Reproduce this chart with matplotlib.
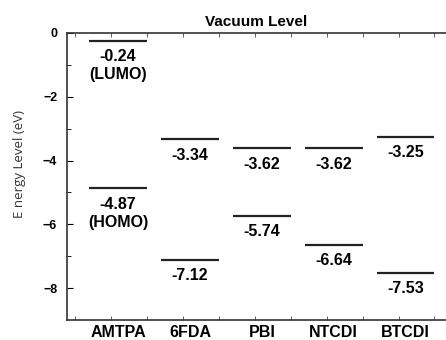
import matplotlib
matplotlib.use("Agg")
import matplotlib.pyplot as plt
import numpy as np

materials = ["AMTPA", "6FDA", "PBI", "NTCDI", "BTCDI"]
lumo = [-0.24, -3.34, -3.62, -3.62, -3.25]
homo = [-4.87, -7.12, -5.74, -6.64, -7.53]

plt.rcParams["font.family"] = ["Liberation Sans", "DejaVu Sans"]

fig = plt.figure(figsize=(4.46, 3.40), dpi=100)
ax = fig.add_axes([0.150, 0.059, 0.850, 0.844])

xs = np.arange(1, len(materials) + 1)
half = 0.4
for i, x in enumerate(xs):
    for val, tag in ((lumo[i], "(LUMO)"), (homo[i], "(HOMO)")):
        ax.plot([x - half, x + half], [val, val], color="#222222", lw=1.6,
                solid_capstyle="butt")
        txt = "%.2f" % val
        if i == 0:
            txt += "\n" + tag
        ax.annotate(txt, (x, val), xytext=(0, -6), textcoords="offset points",
                    ha="center", va="top", fontsize=11.5, fontweight="bold",
                    linespacing=1.25)

ax.set_xlim(0.29, 5.56)
ax.set_ylim(-9, 0)

ax.set_xticks(xs)
ax.set_xticklabels(materials, fontsize=11.5, fontweight="bold")
ax.set_xticks(np.arange(0.4, 5.5, 0.5), minor=True)
ax.tick_params(axis="x", which="major", length=0, pad=4)
ax.tick_params(axis="x", which="minor", direction="in", length=3,
               top=True, bottom=True, color="#444444")

ax.set_yticks([0, -2, -4, -6, -8])
ax.set_yticks([-1, -3, -5, -7], minor=True)
ax.tick_params(axis="y", which="major", direction="in", length=4, pad=7,
               labelsize=9)
ax.tick_params(axis="y", which="minor", direction="in", length=3)
for lab in ax.get_yticklabels():
    lab.set_fontweight("bold")

ax.spines["right"].set_visible(False)
for s in ("left", "bottom", "top"):
    ax.spines[s].set_linewidth(1.2)
    ax.spines[s].set_color("#333333")

ax.set_title("Vacuum Level", fontsize=11, fontweight="bold", pad=5)
ax.set_ylabel("E nergy Level (eV)", fontsize=9.5, color="#333333",
              fontfamily=["Open Sans", "DejaVu Sans"])
ax.yaxis.set_label_coords(-0.108, 0.545)

fig.savefig("out.png", dpi=100)
